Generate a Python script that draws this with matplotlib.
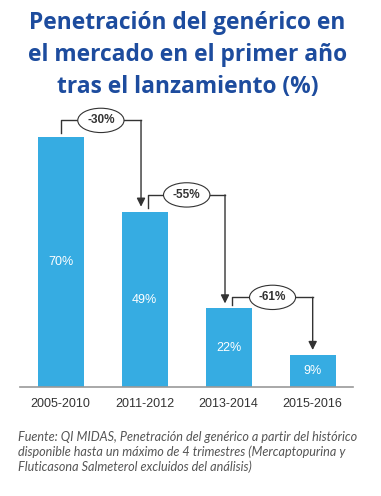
import numpy as np
import matplotlib.pyplot as plt

periods = ['2005-2010', '2011-2012', '2013-2014', '2015-2016']
values = [70, 49, 22, 9]
changes = ['-30%', '-55%', '-61%']

bar_color = '#36ACE2'
dark = '#333333'
title_color = '#1D4C9E'

fig = plt.figure(figsize=(3.81, 4.96), dpi=100)
ax = fig.add_axes([0.0525, 0.2192, 0.874, 0.5796])

x = np.arange(len(values))
ax.bar(x, values, width=0.55, color=bar_color, zorder=2)
ax.set_xlim(-0.485, 3.48)
ax.set_ylim(0, 80.25)

for xi, v in zip(x, values):
    ax.text(xi, v / 2, '%d%%' % v, color='white', ha='center', va='center',
            fontsize=9, family='Liberation Sans')

# brackets between consecutive bars
lift = [4.5, 4.7, 3.1]
start_off = [0, 0.044, 0.044]
end_off = [-0.044, -0.044, 0]
for i, lab in enumerate(changes):
    x0 = x[i] + start_off[i]
    x1 = x[i + 1] + end_off[i]
    ytop = values[i] + lift[i]
    ax.plot([x0, x0, x1], [values[i] + 1.1, ytop, ytop], color=dark, lw=1, zorder=3)
    ax.annotate('', xy=(x1, values[i + 1] + 1.4), xytext=(x1, ytop),
                arrowprops=dict(arrowstyle='-|>,head_width=0.25,head_length=0.5',
                                color=dark, lw=1, shrinkA=0, shrinkB=0), zorder=3)
    ax.text((x0 + x1) / 2, ytop, lab, ha='center', va='center', fontsize=8.5,
            fontweight='bold', color=dark, family='Liberation Sans', zorder=4,
            bbox=dict(boxstyle='ellipse,pad=0.22', fc='white', ec=dark, lw=0.8))

for s in ['top', 'right', 'left']:
    ax.spines[s].set_visible(False)
ax.spines['bottom'].set_color('#999999')
ax.spines['bottom'].set_linewidth(1.2)
ax.set_yticks([])
ax.set_xticks(x)
ax.set_xticklabels(periods, fontsize=9, color=dark, family='Liberation Sans')
ax.tick_params(axis='x', length=0, pad=8)

fig.text(0.492, 0.889, 'Penetración del genérico en\nel mercado en el primer año\ntras el lanzamiento (%)',
         ha='center', va='center', multialignment='center', fontsize=16.4,
         fontweight='bold', color=title_color, family='Open Sans', linespacing=1.42)

fig.text(0.047, 0.131,
         'Fuente: QI MIDAS, Penetración del genérico a partir del histórico\n'
         'disponible hasta un máximo de 4 trimestres (Mercaptopurina y\n'
         'Fluticasona Salmeterol excluidos del análisis)',
         ha='left', va='top', fontsize=9.1, style='italic', color='#555555',
         family='Lato', linespacing=1.22)

plt.savefig('out.png', dpi=100)
